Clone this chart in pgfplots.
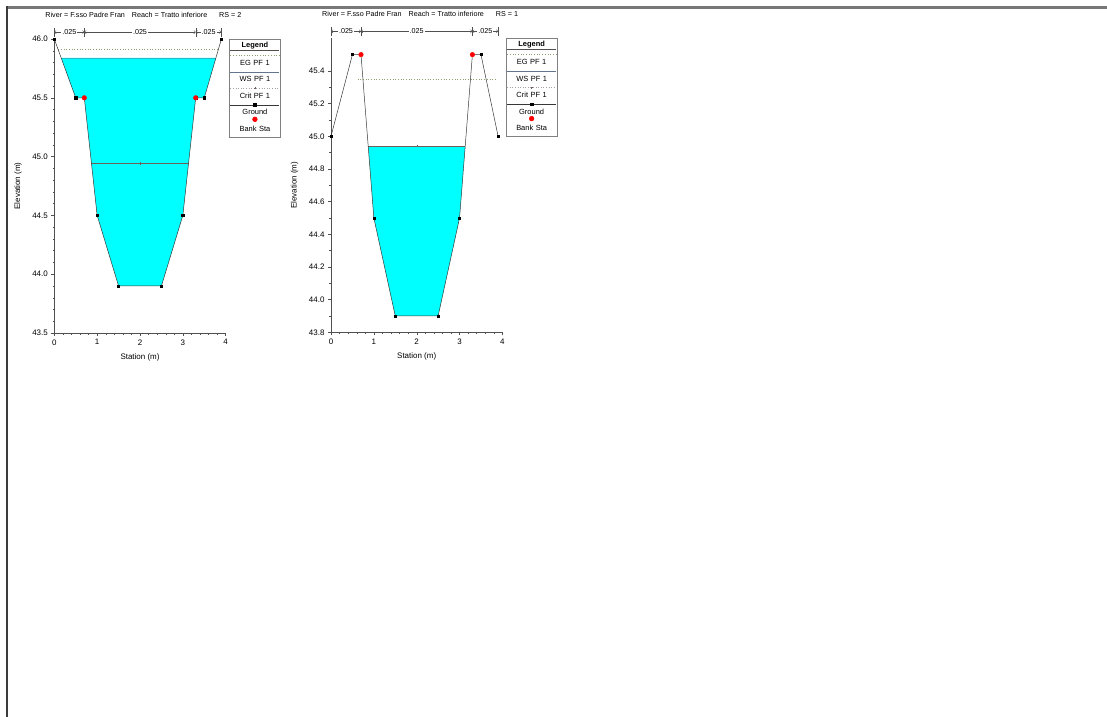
\documentclass[border=0pt]{standalone}
\usepackage{fontspec}
\setmainfont{Liberation Sans}
\usepackage{pgfplots}
\pgfplotsset{compat=1.18}
\usetikzlibrary{arrows.meta}

\definecolor{water}{RGB}{0,255,255}
\definecolor{egc}{RGB}{140,160,110}
\definecolor{wsc}{RGB}{80,110,150}
\definecolor{critc}{RGB}{110,95,95}
\definecolor{gnd}{RGB}{55,55,55}
\definecolor{axc}{RGB}{80,80,80}
\definecolor{frametop}{RGB}{120,120,120}
\definecolor{frameleft}{RGB}{60,60,60}

\newcommand{\fs}{\fontsize{7.2}{8.6}\selectfont}
\newcommand{\afs}{\fontsize{8}{9.6}\selectfont}
\newcommand{\lfs}{\fontsize{7.5}{9}\selectfont}

\pgfplotsset{
  xsect/.style={
    scale only axis, width=171.4bp, height=294bp, anchor=south west,
    axis x line=bottom, axis y line=left,
    axis line style={-, axc, line width=0.5bp},
    xmin=0, xmax=4, xtick={0,1,2,3,4}, minor x tick num=4,
    tick align=outside, major tick length=3bp, minor tick length=1.6bp,
    tick style={axc, line width=0.4bp},
    ticklabel style={font=\afs},
    /pgf/number format/assume math mode=true,
    yticklabel style={/pgf/number format/fixed, /pgf/number format/fixed zerofill, /pgf/number format/precision=1},
    xlabel={Station (m)}, ylabel={Elevation (m)},
    xlabel style={font=\afs, at={(axis description cs:0.5,0)}, anchor=center, yshift=-24bp},
    ylabel style={font=\afs, at={(axis description cs:-0.212,0.5)}, anchor=center},
    title style={font=\fs, at={(axis description cs:0.52,1)}, anchor=center, yshift=18bp},
    clip=false,
    legend style={at={(1.02,1)}, anchor=north west, draw=gray, line width=0.6bp, fill=white,
      inner sep=1bp, row sep=0pt, column sep=0pt, font=\lfs,
      nodes={anchor=base, text width=49bp, align=center, inner sep=0pt, text height=13bp, text depth=3.5bp},
      cells={anchor=base}},
  },
  hdrimg/.style={legend image code/.code={\draw[overlay, axc, line width=0.6bp] (0bp,-3bp) -- (49bp,-3bp);}},
  egimg/.style={legend image code/.code={\draw[overlay, egc, dotted, line width=0.7bp] (0bp,10bp) -- (49bp,10bp);}},
  wsimg/.style={legend image code/.code={\draw[overlay, wsc!60!gray, line width=0.5bp] (0bp,10bp) -- (49bp,10bp);}},
  critimg/.style={legend image code/.code={\draw[overlay, critc!60, dotted, line width=0.6bp] (0bp,10bp) -- (49bp,10bp);
      \draw[overlay, critc, line width=0.4bp] (23.5bp,10bp) -- (25.5bp,10bp) (24.5bp,9bp) -- (24.5bp,11bp);}},
  gndimg/.style={legend image code/.code={\draw[overlay, gnd, line width=0.5bp] (0bp,10bp) -- (49bp,10bp);
      \fill[overlay, black] (23.3bp,8.8bp) rectangle (25.7bp,11.2bp);}},
  bankimg/.style={legend image code/.code={\fill[overlay, red] (24.5bp,12bp) circle (2.3bp);}},
}

\newcommand{\nbar}[4]{%
  \draw[axc, line width=0.4bp] (axis cs:#1,#3) -- (axis cs:#1,#4);
  \draw[axc, line width=0.4bp] (axis cs:#2,#3) -- (axis cs:#2,#4);
}
\newcommand{\nseg}[3]{%
  \draw[{Straight Barb[length=1.6bp,width=3.2bp]}-{Straight Barb[length=1.6bp,width=3.2bp]}, axc, line width=0.4bp]
    (axis cs:#1,#3) -- node[fill=white, inner sep=1bp, font=\fs, text=black]{.025} (axis cs:#2,#3);
}

\newcommand{\legendrows}{%
  \addlegendimage{hdrimg}
  \addlegendentry[text height=7bp, text depth=5bp, font=\bfseries\lfs]{Legend}
  \addlegendimage{egimg}\addlegendentry{EG PF 1}
  \addlegendimage{wsimg}\addlegendentry{WS PF 1}
  \addlegendimage{critimg}\addlegendentry{Crit PF 1}
  \addlegendimage{gndimg}\addlegendentry{Ground}
  \addlegendimage{bankimg}\addlegendentry[text depth=5bp]{Bank Sta}
}

\begin{document}
\begin{tikzpicture}
\useasboundingbox (0,0) rectangle (1107bp,717bp);

% ---------- RS = 2 ----------
\begin{axis}[xsect, at={(54.3bp,384bp)},
  ymin=43.5, ymax=46.0, ytick={43.5,44.0,44.5,45.0,45.5,46.0}, minor y tick num=4,
  title={River = F.sso Padre Fran\hspace{5bp} Reach = Tratto inferiore\hspace{10bp} RS = 2}]
\addplot[fill=water, draw=none, forget plot] coordinates {
  (0.16,45.84) (0.5,45.5) (0.7,45.5) (1,44.5) (1.5,43.9) (2.5,43.9) (3,44.5) (3.3,45.5) (3.5,45.5) (3.772,45.84)} -- cycle;
\addplot[wsc!50!water, line width=0.5bp, forget plot] coordinates {(0.16,45.84) (3.772,45.84)};
\addplot[egc, dotted, line width=0.7bp, forget plot] coordinates {(0.09,45.91) (3.828,45.91)};
\addplot[critc, line width=0.4bp, mark=+, mark size=1.2bp, mark indices={2}, forget plot]
  coordinates {(0.868,44.94) (2,44.94) (3.132,44.94)};
\addplot[gnd, line width=0.5bp, mark=square*, mark size=1.1bp, mark options={black, fill=black}, forget plot]
  coordinates {(0,46.0) (0.5,45.5) (0.7,45.5) (1,44.5) (1.5,43.9) (2.5,43.9) (3,44.5) (3.3,45.5) (3.5,45.5) (3.9,46.0)};
\addplot[only marks, mark=*, mark size=2.3bp, mark options={draw=red, fill=red}, forget plot]
  coordinates {(0.7,45.5) (3.3,45.5)};
\nbar{0}{0.7}{46.017}{46.093}
\nbar{3.3}{3.9}{46.017}{46.093}
\nseg{0}{0.7}{46.059}
\nseg{0.7}{3.3}{46.059}
\nseg{3.3}{3.9}{46.059}
\legendrows
\end{axis}

% ---------- RS = 1 ----------
\begin{axis}[xsect, at={(331bp,384.7bp)},
  ymin=43.8, ymax=45.6, ytick={43.8,44.0,44.2,44.4,44.6,44.8,45.0,45.2,45.4}, minor y tick num=1,
  title={River = F.sso Padre Fran\hspace{5bp} Reach = Tratto inferiore\hspace{10bp} RS = 1}]
\addplot[fill=water, draw=none, forget plot] coordinates {
  (0.868,44.94) (1,44.5) (1.5,43.9) (2.5,43.9) (3,44.5) (3.132,44.94)} -- cycle;
\addplot[egc, dotted, line width=0.7bp, forget plot] coordinates {(0.62,45.35) (3.88,45.35)};
\addplot[critc, line width=0.4bp, mark=+, mark size=1.2bp, mark indices={2}, forget plot]
  coordinates {(0.868,44.94) (2,44.94) (3.132,44.94)};
\addplot[gnd, line width=0.5bp, mark=square*, mark size=1.1bp, mark options={black, fill=black}, forget plot]
  coordinates {(0,45.0) (0.5,45.5) (0.7,45.5) (1,44.5) (1.5,43.9) (2.5,43.9) (3,44.5) (3.3,45.5) (3.5,45.5) (3.9,45.0)};
\addplot[only marks, mark=*, mark size=2.3bp, mark options={draw=red, fill=red}, forget plot]
  coordinates {(0.7,45.5) (3.3,45.5)};
\nbar{0}{0.7}{45.612}{45.667}
\nbar{3.3}{3.9}{45.612}{45.667}
\nseg{0}{0.7}{45.643}
\nseg{0.7}{3.3}{45.643}
\nseg{3.3}{3.9}{45.643}
\legendrows
\end{axis}

% page frame
\draw[line width=2.5bp, frametop] (6bp,709.5bp) -- (1107bp,709.5bp);
\draw[line width=2bp, frameleft] (6.7bp,710.7bp) -- (6.7bp,0bp);
\end{tikzpicture}
\end{document}
